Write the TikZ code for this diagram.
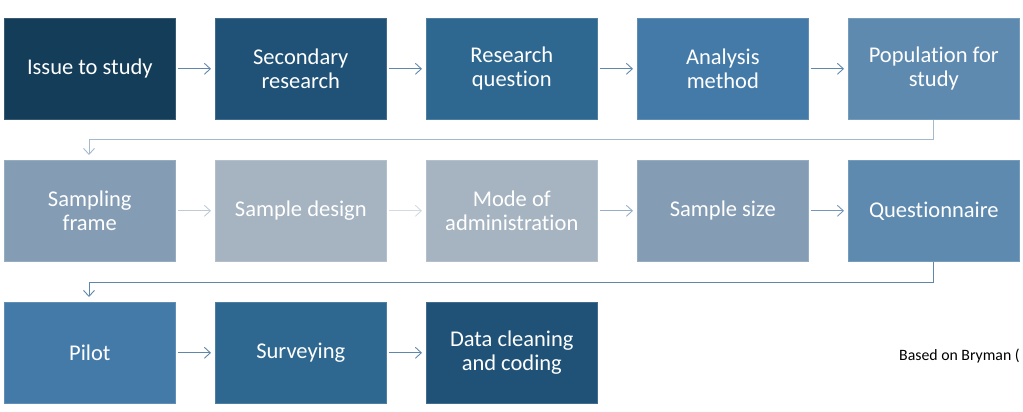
\documentclass[tikz,border=0pt]{standalone}
\usepackage{fontspec}
\setmainfont[Ligatures=NoCommon]{Carlito}
\usetikzlibrary{arrows.meta}
\definecolor{cA}{RGB}{20,61,89}
\definecolor{cB}{RGB}{31,82,118}
\definecolor{cC}{RGB}{46,104,144}
\definecolor{cD}{RGB}{68,122,168}
\definecolor{cE}{RGB}{94,138,176}
\definecolor{cF}{RGB}{132,157,181}
\definecolor{cG}{RGB}{166,180,193}
\definecolor{aA}{RGB}{95,135,172}
\definecolor{aB}{RGB}{165,185,205}
\definecolor{aC}{RGB}{190,202,214}
\definecolor{aD}{RGB}{210,218,226}
\definecolor{aE}{RGB}{150,175,200}
\definecolor{aF}{RGB}{115,150,185}
\begin{document}
\begin{tikzpicture}[x=1pt,y=-1pt,
  box/.style={fill=#1,draw=#1!85!white,line width=0.6pt,minimum width=171pt,minimum height=101pt,
    text=white,align=center,font=\fontsize{22.5}{24}\selectfont,inner sep=0pt,anchor=north west},
  conn/.style={draw=#1,line width=1pt,-{Straight Barb[length=6pt,width=11pt,line width=0.9pt]}}]
\useasboundingbox (0,0) rectangle (1023,412);
% row 1
\node[box=cA] (n1) at (4,18) {Issue to study};
\node[box=cB] (n2) at (215,18) {Secondary\\research};
\node[box=cC] (n3) at (426,18) {Research\\question};
\node[box=cD] (n4) at (637,18) {Analysis\\method};
\node[box=cE] (n5) at (848,18) {Population for\\study};
% row 2
\node[box=cF] (n6) at (4,160) {Sampling\\frame};
\node[box=cG] (n7) at (215,160) {Sample design};
\node[box=cG] (n8) at (426,160) {Mode of\\administration};
\node[box=cF] (n9) at (637,160) {Sample size};
\node[box=cE] (n10) at (848,160) {Questionnaire};
% row 3
\node[box=cD] (n11) at (4,302) {Pilot};
\node[box=cC] (n12) at (215,302) {Surveying};
\node[box=cB] (n13) at (426,302) {Data cleaning\\and coding};
\node[anchor=base west,inner sep=0pt,font=\fontsize{15.8}{18}\selectfont] (src) at (899,360) {Based on Bryman (};
% connectors
\foreach \a/\b/\c in {n1/n2/aA,n2/n3/aA,n3/n4/aA,n4/n5/aA,n6/n7/aC,n7/n8/aD,n8/n9/aE,n9/n10/aF,n11/n12/aA,n12/n13/aA}{
  \draw[conn=\c] ([xshift=2pt]\a.east) -- ([xshift=-4pt]\b.west);
}
\coordinate (t1) at (89,155);
\coordinate (t2) at (89,297);
\draw[conn=aB] (n5.south) -- ++(0,20) -| (t1);
\draw[conn=aA] (n10.south) -- ++(0,21) -| (t2);
\end{tikzpicture}
\end{document}
